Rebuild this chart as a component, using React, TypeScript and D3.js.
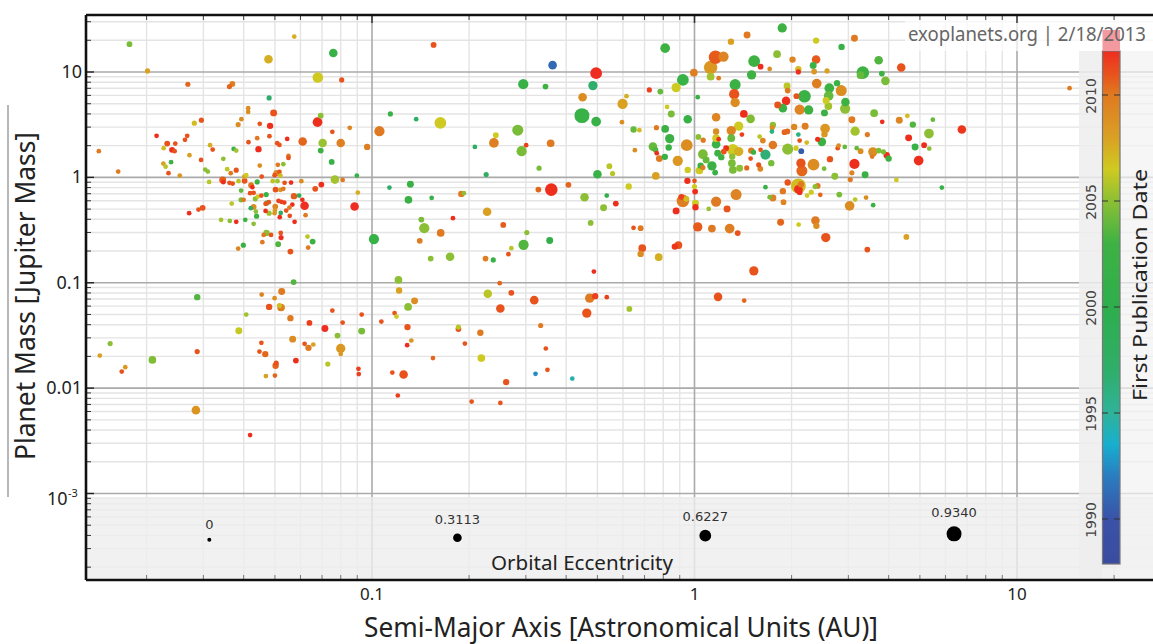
import React from "react";
import * as d3 from "d3";

// Each row: [log10 semi-major axis (AU), log10 mass (Mj), first publication year, eccentricity]
type Row = [number, number, number, number];

const closeInPlanets: Row[] = [
[-1.752,1.264,2004.5,.12],[-1.696,1.010,2008,.08],[-1.571,.884,2010.5,.08],[-1.433,.887,2009.8,.12],[-1.442,.862,2010.5,.08],[-1.241,1.336,2007.5,.05],[-1.321,1.121,2007.5,.31],[-1.120,1.181,2002,.31],[-1.168,.947,2006.5,.5],[-1.094,.925,2011,.08],
[-1.319,.754,1997,.08],[-1.384,.657,2009,.05],[-1.384,.621,2009,.05],[-1.305,.612,2011,.2],[-1.159,.586,2005,.12],[-.943,.602,2002,.08],[-1.405,.552,2009,.05],[-1.529,.543,2011,.08],[-1.551,.514,2007,.08],[-1.415,.501,2009,.08],
[-1.348,.508,2011,.05],[-1.316,.489,2012,.16],[-1.169,.524,2012,.42],[-1.123,.432,2011,.05],[-1.069,.470,2009.5,.05],[-.977,.438,2010,.47],[-1.668,.394,2012,.05],[-1.573,.394,2011,.05],[-1.580,.356,2011,.05],[-1.318,.391,2011,.05],
[-1.356,.372,2010,.05],[-1.263,.365,2012,.05],[-1.215,.340,2010.5,.31],[-1.383,.334,2011,.05],[-1.635,.321,2011,.12],[-1.610,.321,2011,.05],[-1.502,.306,2007.5,.05],[-1.294,.324,2011,.05],[-1.287,.308,2011,.05],[-1.153,.327,2005.3,.31],
[-1.097,.327,2009.7,.31],[-1.015,.289,2009.8,.16],[-1.646,.277,2007,.05],[-1.620,.261,2012,.12],[-1.612,.249,2011,.05],[-1.494,.264,2011,.05],[-1.429,.270,2003,.05],[-1.421,.254,2005.5,.05],[-1.352,.268,2012,.16],[-1.159,.254,2003,.12],
[-1.847,.249,2010,.05],[-1.566,.211,2008,.05],[-1.259,.204,2010,.05],[-1.259,.185,2011,.05],[-1.530,.166,2011,.05],[-1.461,.176,2005,.05],[-1.125,.147,2002,.12],[-1.623,.144,2003,.05],[-1.647,.131,2008,.05],[-1.640,.102,2006,.05],
[-1.348,.112,2009,.05],[-1.292,.119,2010,.05],[-1.275,.125,2005,.05],[-1.787,.055,2010,.05],[-1.517,.074,2005,.05],[-1.509,.055,2005,.05],[-1.449,.078,2006,.05],[-1.421,.068,2011,.08],[-1.438,.040,2010,.05],[-1.631,.040,2011,.05],
[-1.596,.017,2008.5,.05],[-1.287,.052,2011,.05],[-1.296,.040,2009,.16],[-1.284,.017,2007,.05],[-1.302,.021,2011,.05],[-1.047,.017,2002,.05],[-1.395,.008,2008,.08],[-1.390,.021,2006.5,.05],[-1.395,-.033,2011,.12],[-1.342,.008,2011,.05],
[-1.463,-.024,2010.8,.2],[-1.461,-.046,2012,.05],[-1.115,-.021,2005.5,.31],[-1.091,-.024,2010,.05],[-1.505,-.043,2006,.05],[-1.442,-.052,2011,.05],[-1.432,-.059,2011,.05],[-1.414,-.036,2006,.05],[-1.356,-.043,2003,.08],[-1.308,-.036,2006,.05],
[-1.293,-.036,2005.5,.05],[-1.271,-.052,2011,.05],[-1.251,-.049,2012,.05],[-1.219,-.036,2009,.05],[-1.157,-.068,2012,.12],[-1.176,-.109,2011,.12],[-.946,-.097,1997,.05],[-1.044,-.144,2007.5,.05],[-1.375,-.074,2010,.12],[-1.371,-.093,2012,.05],
[-1.406,-.125,2004,.05],[-1.299,-.116,2011,.12],[-1.284,-.119,2008.5,.05],[-1.275,-.109,2010,.05],[-1.378,-.150,2011,.05],[-1.367,-.147,2011,.05],[-1.354,-.182,2006.5,.05],[-1.343,-.173,2011,.05],[-1.328,-.163,2002,.08],[-1.242,-.178,2010.8,.16],
[-1.226,-.173,1999,.05],[-1.216,-.213,2012,.05],[-1.406,-.213,2004.5,.08],[-1.398,-.213,2010,.05],[-1.362,-.204,2005,.08],[-1.435,-.249,2006,.05],[-1.290,-.223,2011.5,.05],[-1.281,-.232,2011.5,.05],[-1.272,-.239,2011.5,.05],[-1.247,-.258,2012,.05],
[-1.209,-.270,2012.3,.31],[-1.054,-.277,2012.3,.31],[-1.525,-.289,2011,.12],[-1.538,-.306,2011,.05],[-1.567,-.340,2012,.05],[-1.367,-.280,2009,.12],[-1.376,-.292,1998,.05],[-1.327,-.245,2002.5,.08],[-1.320,-.235,2011,.05],[-1.330,-.251,2011,.05],
[-1.300,-.277,2009.5,.12],[-1.301,-.315,2008.5,.05],[-1.256,-.287,2010,.05],[-1.266,-.315,2011,.05],[-1.360,-.324,2005,.05],[-1.358,-.368,2003,.08],[-1.319,-.340,2005.3,.08],[-1.330,-.318,2012,.05],[-1.283,-.337,1998,.05],[-1.302,-.340,2008.5,.05],
[-1.286,-.378,2012,.05],[-1.255,-.365,2011,.05],[-1.206,-.359,2010,.05],[-1.240,-.422,2012,.05],[-1.468,-.403,2005.5,.05],[-1.441,-.413,2005,.05],[-1.421,-.422,2012,.05],[-1.393,-.403,2003,.05],[-1.367,-.441,2005,.05],[-1.327,-.527,2005,.16],
[-1.313,-.546,2011,.05],[-1.336,-.546,2010,.05],[-1.283,-.527,2011,.05],[-1.282,-.571,2012,.08],[-1.200,-.562,2006,.05],[-1.184,-.609,2003,.12],[-.994,-.586,2002,.47],[-1.340,-.615,2010,.05],[-1.291,-.634,2003.5,.12],[-1.399,-.643,2002.5,.08],
[-1.415,-.676,2009.5,.05],[-1.198,-.666,2010,.05],[-1.253,-.704,2011,.12],
];

const midOrbitPlanets: Row[] = [
[-.809,1.257,2011,.12],[-.091,1.226,2003,.42],[-.440,1.065,1991,.31],[-.305,.989,2012.3,.62],[-.531,.884,2002,.47],[-.462,.862,2003,.12],[-.315,.871,1997,.38],[-.347,.761,2009,.31],[-.211,.770,2007.5,.05],[-.223,.697,2008,.47],
[-.349,.586,2002,.93],[-.305,.529,2002,.42],[-.863,.552,1998,.05],[-.788,.517,2006.5,.62],[-.225,.524,2009,.05],[-.189,.454,2004,.16],[-.171,.448,2007,.05],[-.118,.472,2010,.08],[-.091,.460,2002.5,.25],[-.548,.448,2004.5,.55],
[-.616,.400,2006.5,.12],[-.622,.327,2009.7,.42],[-.522,.306,2011.5,.05],[-.536,.249,2004.5,.47],[-.446,.324,2010,.25],[-.681,.289,1998,.05],[-.482,.087,2004.5,.08],[-.646,.027,1998,.08],[-.881,-.065,2002.5,.2],[-.887,-.213,2002.5,.25],
[-.815,-.195,2002,.05],[-.723,-.157,2010,.16],[-.715,-.150,2005,.05],[-.484,-.116,2010.5,.12],[-.444,-.116,2012,.7],[-.391,-.071,2010.5,.12],[-.301,.030,2002,.31],[-.264,.106,2006,.12],[-.254,.036,2006,.08],[-.341,-.188,2005,.31],
[-.272,-.173,2001,.05],[-.244,-.249,2012,.12],[-.282,-.289,2005,.2],[-.643,-.327,2008,.31],[-.847,-.400,2004.5,.12],[-.838,-.482,2005,.47],[-.749,-.387,2012,.05],[-.787,-.527,2010,.25],[-.852,-.602,2009.8,.12],[-.593,-.451,2010.8,.12],
[-.520,-.524,2005,.08],[-.322,-.432,2005,.12],[-.449,-.600,2001,.2],[-.530,-.640,2003.5,.47],[-.568,-.672,2006,.05],[-.818,-.770,2005,.12],[-.758,-.754,2005,.31],[-.648,-.770,2009.8,.12],[-.624,-.783,2002,.08],[-.577,-.729,2011,.05],
[-.189,-.479,2011,.05],[-.167,-.482,2010,.12],[-.162,-.672,2011,.25],[-.167,-.726,2009,.16],[-.111,-.757,2007.5,.25],[-.061,-.657,2011.8,.16],[-.050,-.643,2011,.25],[.010,-.470,2010.8,.38],[.054,-.486,2010,.25],[-.057,-.318,2012,.2],
[.044,-.299,2005.3,.05],[.003,-.283,2012,.16],[.003,-.245,2006.5,.2],[.067,-.230,2010,.47],[-.036,-.223,2009.8,.7],[-.041,-.185,2011.5,.12],[-.025,-.204,2007,.12],[.002,-.135,2012,.12],[0,-.087,2006.5,.08],[0,-.033,2011,.05],
[-.022,-.033,2012,.16],[-.204,-.087,2006.5,.16],[-.120,.014,2008,.25],[-.021,.071,2006.5,.16],[.015,.065,2006.5,.25],[.019,.112,2003,.16],[.026,.220,2004.5,.42],[.036,.166,2004,.2],[.054,.109,2002.5,.38],[.064,.046,2002,.12],
[.026,.093,2010,.08],[-.052,.157,2008.5,.47],[-.024,.306,2009,.62],[-.092,.195,2002,.16],[-.109,.178,2010,.2],[-.117,.230,2012,.05],[-.129,.292,2004,.31],[-.121,.261,2003.5,.12],[-.185,.258,2009,.05],[-.080,.283,2002.5,.16],
[-.077,.368,2002.5,.38],[.012,.384,2005,.12],[.027,.353,2010,.08],[-.021,.552,2002,.31],[-.072,.602,2004.5,.2],[-.085,.669,2006.5,.05],[.010,.761,2002,.05],[-.140,.830,2011.5,.08],[-.106,.814,2004,.12],[-.057,.852,2006.5,.38],
[-.036,.925,2002,.62],[-.002,.994,2009.7,.25],[.050,1.042,2008.5,.78],[.050,.956,2005.5,.25],[.065,1.140,2010.8,.78],[.075,.941,2010,.05],[.067,.571,2009.5,.31],[.067,.435,2009,.16],[.067,.372,2006.5,.25],[.075,.362,2012,.05],
[.067,.315,2002,.31],[.072,.230,2003,.2],
];

const lowMassPlanets: Row[] = [
[-.312,-.894,2012,.05],[.184,-.887,2011,.38],[-.604,-1.004,2010.5,.05],[-.641,-1.105,2006,.31],[-.568,-1.096,2011,.12],[-.497,-1.165,2011,.31],[-.325,-1.146,2010,.38],[-.308,-1.127,2011.5,.16],[-.272,-1.137,2011.5,.05],[.073,-1.134,2011,.31],
[.154,-1.169,2010.5,.05],[-.202,-1.248,2005.5,.12],[-.602,-1.245,2011,.31],[-.334,-1.288,2011,.38],[-.868,-1.172,2009,.2],[-.888,-1.229,2005,.25],[-.918,-.973,2005,.25],[-.916,-1.074,2008,.16],[-.890,-1.421,2011,.16],[-.732,-1.421,2006,.08],
[-.732,-1.440,2011,.12],[-.664,-1.475,2010,.16],[-.477,-1.406,2010,.08],[-.878,-1.548,2008.5,.05],[-.891,-1.592,2012.5,.05],[-.712,-1.577,2011,.05],[-.461,-1.624,2011,.05],[-.811,-1.715,2010.5,.05],[-.661,-1.715,2006.5,.25],[-.902,-1.871,2011,.31],
[-.584,-1.943,2011,.16],[-.493,-1.864,1992.5,.05],[-.456,-1.826,2011,.05],[-.379,-1.909,1994.5,.05],[-.920,-2.070,2011.5,.05],[-.691,-2.127,2011,.05],[-.602,-2.140,2011,.05],
[-1.243,-.994,2003.5,.12],[-1.342,-1.112,2009.7,.05],[-1.280,-1.084,2010,.2],[-1.302,-1.146,2009,.05],[-1.542,-1.137,2003.5,.16],[-1.319,-1.229,2011,.16],[-1.287,-1.216,2007,.08],[-1.282,-1.235,2009.7,.25],[-1.390,-1.302,2005.5,.05],[-1.123,-1.264,2011,.05],
[-1.032,-1.302,2011,.05],[-.930,-1.288,2011,.05],[-.924,-1.321,2006.5,.05],[-1.253,-1.336,2010,.16],[-1.194,-1.381,2011.5,.12],[-1.091,-1.378,2011,.05],[-.971,-1.368,2011,.05],[-1.413,-1.456,2006.3,.2],[-1.146,-1.435,2012.3,.2],[-1.032,-1.459,2004.5,.2],
[-1.107,-1.501,2005,.12],[-1.246,-1.535,2009,.2],[-1.343,-1.570,2011,.05],[-1.209,-1.580,2011,.05],[-1.182,-1.586,2008,.05],[-1.197,-1.618,2010,.16],[-1.097,-1.624,2008.5,.38],[-1.097,-1.675,2008.5,.05],[-1.812,-1.577,2005,.08],[-1.844,-1.691,2008,.05],
[-1.542,-1.653,2011,.08],[-1.681,-1.732,2004.7,.25],[-1.349,-1.653,2011,.05],[-1.331,-1.677,2010.5,.16],[-1.236,-1.738,2012,.12],[-1.297,-1.763,2011,.08],[-1.299,-1.788,2010.5,.16],[-1.137,-1.772,2006,.08],[-1.765,-1.801,2008.5,.05],[-1.776,-1.843,2011,.05],
[-1.329,-1.886,2008,.05],[-1.301,-1.881,2010.5,.05],[-1.042,-1.817,2011.5,.05],[-1.041,-1.867,2011.5,.05],[-.937,-1.852,2011,.05],[-1.546,-2.209,2008.7,.31],[-1.378,-2.446,2012,.05],
];

const giantBeltPlanets: Row[] = [
[.272,1.418,2003,.38],[.163,1.352,2010,.2],[.113,1.288,2008,.16],[.377,1.298,2006.5,.16],[.496,1.321,2010,.2],[.456,1.238,2002,.16],[.256,1.169,2005,.25],[.090,1.146,2009.5,.47],[.185,1.103,2003,.62],[.205,1.051,2012,.12],
[.233,1.029,2009,.05],[.304,1.118,2009.5,.16],[.377,1.118,2010.8,.31],[.368,1.061,2003,.2],[.411,1.010,2008,.08],[.371,1.004,2008.5,.12],[.322,1.027,2007,.16],[.322,1.001,2012,.08],[.177,.973,2003,.38],[.522,.994,2003,.7],
[.515,.970,2004,.25],[.571,1.112,2003.5,.31],[.581,.985,2003,.12],[.592,.916,2004.5,.31],[.641,1.042,2011,.31],[.126,.880,2002.5,.55],[.123,.789,2011,.47],[.126,.710,2009,.38],[.379,.890,2009.8,.42],[.442,.894,2003,.16],
[.418,.846,2003,.42],[.455,.824,2009,.55],[.287,.868,2006,.2],[.289,.824,2010,.12],[.341,.770,2002.5,.7],[.316,.770,2011,.12],[.284,.726,2012,.31],[.258,.688,2011,.2],[.274,.657,2002.5,.31],[.416,.773,2004,.42],
[.408,.729,2006.5,.2],[.468,.716,2003,.31],[.415,.676,2005.5,.25],[.467,.653,2005,.47],[.326,.643,2009.5,.47],[.354,.640,2003,.38],[.403,.612,2002.5,.2],[.557,.609,2004.5,.25],[.153,.602,2012,.25],[.174,.555,2004.7,.31],
[.488,.546,2010,.2],[.582,.527,2012,.05],[.635,.543,2009.5,.2],[.660,.584,2007,.05],[.739,.548,2004,.05],[.677,.501,2003.5,.16],[.829,.454,2011.8,.31],[.727,.416,2005,.42],[.664,.375,2012,.2],[.684,.289,2002,.2],
[.712,.306,2012,.12],[.728,.273,2005,.05],[.695,.159,2012,.42],[.498,.438,2005.5,.38],[.536,.406,2010,.08],[.405,.463,2008.5,.42],[.395,.337,2003,.31],[.403,.410,2008.5,.16],[.382,.362,2012,.08],[.343,.486,2009.8,.2],
[.309,.479,2009.3,.16],[.279,.429,2010.5,.12],[.288,.436,2010.5,.12],[.240,.435,1996,.05],[.243,.498,2005,.16],[.241,.472,2009,.08],[.137,.486,2006.5,.38],[.114,.444,2009.5,.38],[.114,.372,2004,.25],[.147,.406,2011.5,.05],
[.202,.387,2006,.05],[.212,.349,2009.5,.12],[.243,.308,2010,.31],[.322,.406,1996,.05],[.326,.349,2011,.05],[.348,.330,2007,.05],[.289,.268,2005,.55],[.315,.277,2006.5,.08],[.331,.249,1990.5,.12],[.176,.254,2010,.16],
[.183,.239,2003,.08],[.205,.261,2011,.05],[.220,.216,1996.5,.47],[.174,.178,2011,.05],[.119,.261,2006.5,.62],[.137,.245,2007.5,.38],[.098,.277,2012,.12],[.091,.245,2011,.12],[.083,.192,2003,.16],[.117,.197,2005,.16],
[.116,.135,2004.5,.25],[.119,.071,2004.5,.25],[.140,.087,2005,.2],[.162,.090,2010.5,.08],[.199,.119,2011,.08],[.204,.081,2009.5,.12],[.238,.135,2004.5,.16],[.330,.135,2011,.38],[.333,.062,2010.5,.55],[.369,.121,2009,.62],
[.420,.173,2011,.16],[.402,.083,2004.5,.05],[.435,.011,2005,.2],[.496,.128,2012,.47],[.488,.043,2009.5,.08],[.483,-.021,2010,.08],[.529,.024,2002.5,.2],[.444,.277,2011,.05],[.447,.302,2009,.05],[.466,.289,2004,.05],
[.503,.277,2004,.05],[.515,.249,2009,.12],[.553,.242,2009,.38],[.551,.197,2010,.05],[.571,.254,2004.7,.12],[.586,.242,2004.5,.08],[.596,.211,2012,.16],[.602,.178,2003,.16],[.626,-.024,2006.5,.05],[.767,-.097,2002,.05],
[.449,-.163,2004.5,.12],[.498,-.211,2006,.05],[.532,-.192,2009,.05],[.554,-.264,2002.5,.05],[.481,-.270,2009,.42],[.390,-.166,2010.5,.05],[.382,-.081,2010,.12],[.374,-.087,2005,.08],[.362,-.140,2006.5,.08],[.349,-.173,2006.5,.05],
[.322,-.081,2007,.93],[.330,-.065,2010,.16],[.322,-.112,2012,.31],[.326,-.140,2012,.12],[.289,-.049,2011,.16],[.274,-.131,2010,.16],[.220,-.093,2002,.05],[.233,-.188,2004.5,.05],[.243,-.195,2009.7,.2],[.276,-.235,2009.5,.12],
[.129,-.163,2009.5,.55],[.101,-.299,2011,.2],[.267,-.425,2010.5,.2],[.323,-.448,2006.5,.05],[.375,-.410,2010,.31],[.378,-.460,2009,.16],[.109,-.486,2009.8,.42],[.134,-.529,2011,.12],[.407,-.571,2011,.38],[.657,-.565,2008,.12],
[.536,-.685,2011,.12],[1.163,.846,2010,.05],
];

const planets: Row[] = [...closeInPlanets, ...midOrbitPlanets, ...lowMassPlanets, ...giantBeltPlanets];

const colorYears = [1988, 1990, 1992, 1993.5, 1995, 1997, 2000, 2003, 2005, 2006.5, 2008, 2010, 2011, 2012, 2013];
const colorValues = ["#3a4ca0", "#3a52a8", "#2a7cc0", "#18aecf", "#2fb39a", "#2fae6a", "#2eae4c", "#3db243", "#8cbf34", "#cfca20", "#d9a024", "#df7a20", "#e8521c", "#ee2f1f", "#ee2a22"];
const colorbarTicks = [1990, 1995, 2000, 2005, 2010];

const legendEcc = [0, 0.3113, 0.6227, 0.934];
const legendLabels = ["0", "0.3113", "0.6227", "0.9340"];
const legendAU = [0.0313, 0.184, 1.08, 6.38];
const legendMass = [3.63e-4, 3.8e-4, 3.98e-4, 4.14e-4];

const xMajor = [0.1, 1, 10];
const xMajorLabels = ["0.1", "1", "10"];
const yMajor = [10, 1, 0.1, 0.01];
const yMajorLabels = ["10", "1", "0.1", "0.01"];
const xDecades = [0.01, 0.1, 1, 10];
const yDecades = [1e-4, 1e-3, 1e-2, 1e-1, 1, 10];
const multiples = [2, 3, 4, 5, 6, 7, 8, 9];

const x = d3.scaleLog().domain([0.1, 10]).range([372, 1017]);
const y = d3.scaleLog().domain([10, 0.001]).range([72, 493.5]);
const color = d3.scaleLinear<string>().domain(colorYears).range(colorValues).interpolate(d3.interpolateRgb);
const radius = d3.scaleLinear().domain([0, 0.3113, 0.6227, 0.934]).range([2, 4.3, 5.9, 7.5]);
const barY = d3.scaleLinear().domain([1990, 2010]).range([519, 95]);

const L = 86, R = 1153, T = 15, B = 580;
const xMinor = xDecades.flatMap((d) => multiples.map((m) => d * m)).filter((v) => x(v) > L && x(v) < R);
const yMinor = yDecades.flatMap((d) => multiples.map((m) => d * m)).filter((v) => y(v) > T && y(v) < B);
const sorted = [...planets].sort((a, b) => b[3] - a[3]);
const FONT = "'Noto Sans', 'DejaVu Sans', sans-serif";

export default function App() {
  const barTop = 51, barBottom = 564;
  return (
    <svg width={1153} height={644} style={{ position: "absolute", left: 0, top: 0, background: "#fff" }} fontFamily={FONT}>
      <defs>
        <linearGradient id="bar" x1="0" x2="0" y1={barBottom} y2={barTop} gradientUnits="userSpaceOnUse">
          {d3.range(1988, 2013.01, 0.5).map((yr) => (
            <stop key={yr} offset={(barBottom - barY(yr)) / (barBottom - barTop)} stopColor={color(yr)} />
          ))}
        </linearGradient>
        <filter id="soft" x="-2%" y="-2%" width="104%" height="104%"><feGaussianBlur stdDeviation="0.45" /></filter>
      </defs>

      {xMinor.map((v) => <line key={v} x1={x(v)} x2={x(v)} y1={T} y2={B} stroke="#e4e4e4" strokeWidth={1.4} />)}
      {yMinor.map((v) => <line key={v} x1={L} x2={R} y1={y(v)} y2={y(v)} stroke="#e4e4e4" strokeWidth={1.4} />)}
      {xMajor.map((v) => <line key={v} x1={x(v)} x2={x(v)} y1={T} y2={B} stroke="#aaaaaa" strokeWidth={1.6} />)}
      {[...yMajor, 0.001].map((v) => <line key={v} x1={L} x2={R} y1={y(v)} y2={y(v)} stroke="#aaaaaa" strokeWidth={1.6} />)}

      <rect x={L} y={497} width={R - L} height={B - 497} fill="#ededed" opacity={0.8} />
      <rect x={1079} y={barTop} width={23} height={B - barTop} fill="#ededed" opacity={0.85} />
      <rect x={1120} y={barTop} width={33} height={B - barTop} fill="#f2f2f2" opacity={0.7} />
      <rect x={905} y={T} width={248} height={36} fill="#fff" opacity={0.7} />

      {xMinor.map((v) => <line key={v} x1={x(v)} x2={x(v)} y1={T} y2={T + 5} stroke="#444" strokeWidth={1} />)}
      {xMinor.map((v) => <line key={v} x1={x(v)} x2={x(v)} y1={B - 5} y2={B} stroke="#777" strokeWidth={1} />)}
      {xMajor.map((v) => <line key={v} x1={x(v)} x2={x(v)} y1={T} y2={T + 8} stroke="#333" strokeWidth={1.5} />)}
      {yMinor.map((v) => <line key={v} x1={L} x2={L + 5} y1={y(v)} y2={y(v)} stroke="#333" strokeWidth={1} />)}
      {[...yMajor, 0.001].map((v) => <line key={v} x1={L} x2={L + 8} y1={y(v)} y2={y(v)} stroke="#222" strokeWidth={1.4} />)}

      <g filter="url(#soft)">
        {sorted.map((p, i) => (
          <circle key={i} cx={x(10 ** p[0])} cy={y(10 ** p[1])} r={radius(p[3])} fill={color(p[2])} />
        ))}
      </g>

      <line x1={L} x2={L} y1={T} y2={B} stroke="#111" strokeWidth={2.6} />
      <line x1={L} x2={R} y1={T} y2={T} stroke="#111" strokeWidth={2.4} />
      <line x1={L} x2={R} y1={B} y2={B} stroke="#111" strokeWidth={2.4} />

      <rect x={1102.5} y={barTop} width={17.5} height={barBottom - barTop} fill="url(#bar)" stroke="#777" strokeWidth={1.2} />
      <rect x={1102.5} y={30} width={17.5} height={barTop - 30} fill="#f29aa0" />
      {colorbarTicks.map((yr) => (
        <g key={yr}>
          <line x1={1102} x2={1120} y1={barY(yr)} y2={barY(yr)} stroke="#333" strokeWidth={1} strokeDasharray="6 6" />
          <text transform={`translate(1096,${barY(yr) + 1}) rotate(-90)`} textAnchor="middle" fontSize={14} fill="#444" fontFamily="'DejaVu Sans', sans-serif">{yr}</text>
        </g>
      ))}

      <text x={908} y={41} fontSize={19} fill="#666" textLength={238} lengthAdjust="spacingAndGlyphs">exoplanets.org | 2/18/2013</text>
      <text transform="translate(1147,285) rotate(-90)" textAnchor="middle" fontSize={19} fill="#222" textLength={232} lengthAdjust="spacingAndGlyphs">First Publication Date</text>

      {xMajor.map((v, i) => (
        <text key={v} x={x(v)} y={600} textAnchor="middle" fontSize={17} fill="#222">{xMajorLabels[i]}</text>
      ))}
      {yMajor.map((v, i) => (
        <text key={v} x={82} y={y(v) + 6} textAnchor="end" fontSize={18} fill="#222">{yMajorLabels[i]}</text>
      ))}
      <text x={47} y={505} fontSize={18} fill="#222">10</text>
      <text x={68} y={497} fontSize={11} fill="#222">-3</text>

      <text x={621} y={637} textAnchor="middle" fontSize={27} fill="#222" textLength={514} lengthAdjust="spacingAndGlyphs">Semi-Major Axis [Astronomical Units (AU)]</text>
      <text transform="translate(35,296) rotate(-90)" textAnchor="middle" fontSize={27} fill="#222" textLength={328} lengthAdjust="spacingAndGlyphs">Planet Mass [Jupiter Mass]</text>
      <line x1={8} x2={8} y1={105} y2={497} stroke="#888" strokeWidth={1.2} />

      {legendEcc.map((e, i) => (
        <g key={e}>
          <circle cx={x(legendAU[i])} cy={y(legendMass[i])} r={radius(e)} fill="#000" />
          <text x={x(legendAU[i])} y={y(legendMass[i]) - radius(e) - 9} textAnchor="middle" fontSize={13} fill="#333" fontFamily="'DejaVu Sans', sans-serif">{legendLabels[i]}</text>
        </g>
      ))}
      <text x={582} y={570} textAnchor="middle" fontSize={20} fill="#222" textLength={182} lengthAdjust="spacingAndGlyphs">Orbital Eccentricity</text>
    </svg>
  );
}
